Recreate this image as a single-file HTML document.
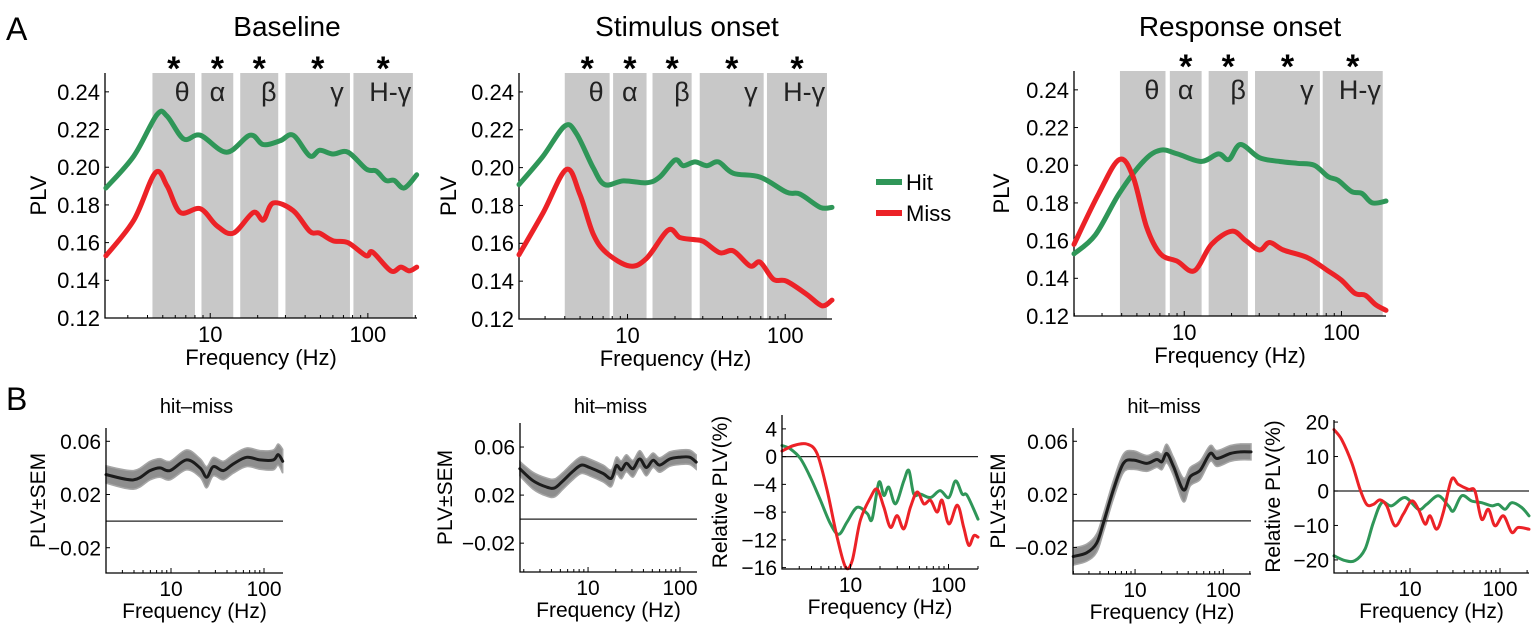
<!DOCTYPE html>
<html><head><meta charset="utf-8"><style>
html,body{margin:0;padding:0;background:#fff}
svg{display:block;font-family:"Liberation Sans",Arial,sans-serif}
</style></head><body>
<svg id="fig" width="1535" height="629" viewBox="0 0 1535 629" xmlns="http://www.w3.org/2000/svg">
<text x="6" y="40" font-size="32">A</text>
<text x="6" y="410" font-size="32">B</text>
<text x="287" y="36" font-size="28" text-anchor="middle">Baseline</text>
<text x="687" y="36" font-size="28" text-anchor="middle">Stimulus onset</text>
<text x="1240" y="36" font-size="28" text-anchor="middle">Response onset</text>
<g>
<line x1="876" y1="182" x2="902" y2="182" stroke="#2f9658" stroke-width="6"/>
<text x="906" y="190" font-size="22">Hit</text>
<line x1="876" y1="213" x2="902" y2="213" stroke="#ec2227" stroke-width="6"/>
<text x="906" y="221" font-size="22">Miss</text>
</g>
</svg>
<script>
// ---------- Data ----------
const bandNames = ["θ","α","β","γ","H-γ"];
const bandsA1 = [[4.3,8.0],[8.8,14],[15.5,27],[30,77],[81,193]];
const bandsA2 = [[4.0,7.7],[8.1,13.2],[14.4,25.5],[28.7,73],[76.6,184]];
const bandsA3 = [[3.9,7.6],[8.1,12.9],[14.3,25.4],[28.2,72.9],[76,183]];
const starsA1 = [true,true,true,true,true];
const starsA2 = [true,true,true,true,true];
const starsA3 = [false,true,true,true,true];

const a1HitFreq = [2.18,3.28,4.6,5.33,6.79,8.65,12.7,17.9,21.7,27.7,33.6,42.8,49.5,60,74.7,97.8,113,130,147,170,204];
const a1HitVal  = [.189,.206,.228,.227,.215,.217,.208,.217,.212,.214,.217,.206,.209,.207,.208,.199,.198,.193,.193,.189,.196];
const a1MissFreq = [2.18,3.28,4.48,5.33,6.46,8.65,11.0,14.0,18.8,21.7,25.1,33.6,42.8,49.5,60,74.7,97.8,107,140,162,183,204];
const a1MissVal  = [.153,.172,.197,.190,.176,.178,.169,.165,.176,.172,.181,.177,.166,.165,.161,.160,.153,.155,.145,.147,.145,.147];

const a2HitFreq = [2.05,2.91,4.0,4.74,6.05,7.17,9.4,13.2,16.0,20.0,22.6,26.8,31.8,37.7,46.9,69.3,102,124,167,198];
const a2HitVal  = [.191,.206,.222,.218,.200,.191,.193,.192,.195,.204,.201,.203,.201,.203,.197,.195,.187,.186,.179,.179];
const a2MissFreq = [2.05,2.91,4.09,4.98,6.05,7.35,10.3,13.2,18.1,21.5,26.1,30.3,38.6,46.9,59.9,69.3,84.2,102,137,171,198];
const a2MissVal  = [.154,.176,.199,.186,.165,.155,.148,.152,.167,.163,.162,.161,.155,.156,.148,.150,.141,.140,.133,.127,.130];

const a3HitFreq = [1.99,2.72,3.86,5.49,7.05,9.05,12.8,16.5,19.2,22.8,30.1,40.6,52.2,67,82,95,116,135,157,192];
const a3HitVal  = [.153,.163,.185,.202,.208,.206,.202,.206,.203,.211,.204,.202,.201,.200,.194,.192,.186,.185,.180,.181];
const a3MissFreq = [1.99,2.86,3.86,4.72,5.77,7.05,9.05,11.6,14.9,20.1,24.6,30.1,34.9,42.7,60.7,82,100,122,142,165,192];
const a3MissVal  = [.158,.185,.203,.194,.167,.153,.149,.144,.158,.165,.160,.155,.159,.155,.151,.144,.139,.132,.131,.126,.123];

const b1Freq = [2.0,3.94,5.95,7.6,9.75,14.7,20.5,24.2,28.5,36.5,46.7,65,90.5,126,142,159];
const b1Mean = [.035,.031,.038,.040,.038,.046,.040,.033,.041,.038,.043,.048,.046,.046,.050,.045];
const b1Sem  = [.0065,.007,.007,.007,.007,.0075,.007,.008,.007,.007,.007,.007,.007,.0075,.008,.009];

const b2Freq = [1.81,2.52,3.53,4.34,5.35,6.87,8.46,10.4,14.6,17.9,20.3,23.0,26.1,30.8,36.4,43.0,50.9,60.2,77.3,99.3,127,150];
const b2Mean = [.042,.032,.0267,.026,.032,.040,.045,.043,.038,.034,.0445,.041,.0465,.042,.050,.043,.049,.045,.050,.0515,.0515,.0475];
const b2Sem  = [.006,.007,.0075,.0075,.007,.007,.007,.007,.007,.007,.007,.0075,.007,.007,.007,.007,.006,.006,.006,.006,.006,.006];

const b3Freq = [2.0,2.64,3.61,4.57,5.78,7.3,8.9,10.4,12.6,16.0,18.7,21.9,25.6,29.9,35.0,40.9,47.9,56,65.5,76.6,86,101,123,143,161,181,200];
const b3Miss = [0.8,1.6,1.8,0.4,-4.9,-11.6,-15.9,-15,-9.2,-5.9,-4.7,-7.3,-10.2,-8.5,-10.4,-7.3,-5.1,-6.8,-6.3,-8.0,-6.3,-9.7,-7.0,-10.2,-12.8,-11.4,-11.6];
const b3HitFreq = [2.0,2.44,3.09,3.9,4.94,6.25,7.6,9.25,11.7,14.8,16.6,19.5,21.9,24.6,28.8,35.0,39.4,44.2,51.8,65.5,82,101,118,138,155,200];
const b3Hit = [1.6,1.1,-0.3,-3.0,-6.3,-9.7,-11.2,-9.4,-7.3,-8.2,-9.0,-3.7,-5.6,-4.4,-6.8,-3.5,-2.0,-5.4,-5.4,-5.9,-4.9,-5.9,-3.5,-5.4,-5.6,-9.0];

const b4Freq = [1.99,2.82,3.67,4.37,5.67,7.37,9.57,13.6,17.6,20.1,22.9,27.3,35.4,42.2,54.8,71.1,84.9,120,156,206];
const b4Mean = [-.0268,-.024,-.0168,-.0018,.0233,.0433,.0458,.0433,.0463,.0445,.0508,.0408,.0233,.0333,.0383,.0508,.047,.0508,.052,.052];
const b4Sem  = [.0065,.0065,.007,.007,.007,.007,.007,.006,.006,.006,.007,.007,.009,.007,.007,.006,.006,.006,.006,.006];

const b5MissFreq = [1.43,1.74,2.25,2.78,3.3,3.91,4.64,5.51,6.8,8.43,10.4,12.4,14.7,16.7,19.8,23.4,29.0,34.4,44.4,52.6,62.5,74.2,88,109,135,159,210];
const b5Miss = [17.8,14.9,8.2,0.5,-3.9,-3.9,-2.6,-4.3,-10.1,-6.7,-2.9,-5.3,-9.6,-7.2,-11.1,-6.3,3.4,1.9,0.5,0,-8.2,-5.3,-10.1,-7.2,-12.0,-10.6,-11.1];
const b5HitFreq = [1.43,1.9,2.45,3.16,3.91,4.84,6.25,8.8,12.4,15.3,20.6,26.7,30.3,37.5,48.4,62.5,81,96,114,135,174,210];
const b5Hit = [-18.8,-20.2,-20.2,-16.9,-9.2,-3.4,-4.3,-1.9,-5.3,-3.9,-1.4,-4.3,-5.8,-1.4,-2.9,-3.4,-4.3,-3.9,-5.3,-3.4,-4.8,-7.2];

const aYTicks = [0.12,0.14,0.16,0.18,0.20,0.22,0.24];
const bYTicks = [-0.02,0.02,0.06];
const b3YTicks = [-16,-12,-8,-4,0,4];
const b5YTicks = [-20,-10,0,10,20];
const xTicks = [10,100];

// ---------- Helpers ----------
const NS = "http://www.w3.org/2000/svg";
const svg = document.getElementById("fig");
const GREEN = "#2f9658", RED = "#ec2227";
function mk(tag, attrs, parent) {
  const e = document.createElementNS(NS, tag);
  for (const k in attrs) e.setAttribute(k, attrs[k]);
  (parent || svg).appendChild(e);
  return e;
}
function xs(p) { const l0 = Math.log10(p.xd[0]), l1 = Math.log10(p.xd[1]);
  return f => p.x0 + (Math.log10(f) - l0) / (l1 - l0) * (p.x1 - p.x0); }
function ys(p) { return v => p.y1 - (v - p.yd[0]) / (p.yd[1] - p.yd[0]) * (p.y1 - p.y0); }
function smoothPath(pts) {
  let d = "M" + pts[0][0].toFixed(1) + "," + pts[0][1].toFixed(1);
  for (let i = 0; i < pts.length - 1; i++) {
    const p0 = pts[i - 1] || pts[i], p1 = pts[i], p2 = pts[i + 1], p3 = pts[i + 2] || p2;
    const c1 = [p1[0] + (p2[0] - p0[0]) / 6, p1[1] + (p2[1] - p0[1]) / 6];
    const c2 = [p2[0] - (p3[0] - p1[0]) / 6, p2[1] - (p3[1] - p1[1]) / 6];
    d += "C" + c1[0].toFixed(1) + "," + c1[1].toFixed(1) + " " + c2[0].toFixed(1) + "," + c2[1].toFixed(1) + " " + p2[0].toFixed(1) + "," + p2[1].toFixed(1);
  }
  return d;
}
function axes(p, g, yTicks, fmt, fs, yLabel, yLabelX) {
  const X = xs(p), Y = ys(p);
  const ax = mk("g", {}, g);
  
  
  mk("path", {d: `M${p.x0},${p.y0}V${p.y1}H${p.x1}`, fill: "none", stroke: "#000", "stroke-width": 1.3}, ax);
  yTicks.forEach(t => {
    const y = Y(t);
    mk("line", {x1: p.x0, x2: p.x0 + 4, y1: y, y2: y, stroke: "#000", "stroke-width": 1}, ax);
    const tx = mk("text", {x: p.x0 - 5, y: y + fs * 0.36, "font-size": fs, "text-anchor": "end"}, ax);
    tx.textContent = fmt(t);
    
    
  });
  for (let dec = 1; dec <= 1000; dec *= 10) for (let m = 1; m < 10; m++) {
    const f = dec * m;
    if (f < p.xd[0] || f > p.xd[1]) continue;
    const x = X(f), major = (m === 1);
    mk("line", {x1: x, x2: x, y1: p.y1, y2: p.y1 - (major ? 5 : 3), stroke: "#000", "stroke-width": 1}, ax);
  }
  xTicks.forEach(t => {
    const tx = mk("text", {x: X(t), y: p.y1 + fs + 2, "font-size": fs, "text-anchor": "middle"}, ax);
    tx.textContent = t;
    
    
  });
  const xl = mk("text", {x: (p.x0 + p.x1) / 2, y: p.y1 + fs * 2 + 3, "font-size": fs, "text-anchor": "middle"}, ax);
  xl.textContent = "Frequency (Hz)";
  
  
  const cy = (p.y0 + p.y1) / 2;
  const yl = mk("text", {x: yLabelX, y: cy, "font-size": fs, "text-anchor": "middle", transform: `rotate(-90 ${yLabelX} ${cy})`}, ax);
  yl.textContent = yLabel;
  
  
}
function line(p, g, fr, vals, color, w, name) {
  const X = xs(p), Y = ys(p);
  const pts = fr.map((f, i) => [X(f), Y(vals[i])]);
  const el = mk("path", {d: smoothPath(pts), fill: "none", stroke: color, "stroke-width": w, "stroke-linejoin": "round", "stroke-linecap": "round"}, g);
  
  
}
function semBand(p, g, fr, mean, sem, name) {
  const X = xs(p), Y = ys(p);
  const up = fr.map((f, i) => [X(f), Y(mean[i] + sem[i])]);
  const lo = fr.map((f, i) => [X(f), Y(mean[i] - sem[i])]).reverse();
  const d = smoothPath(up) + "L" + smoothPath(lo).slice(1) + "Z";
  const el = mk("path", {d: d, fill: "#8e8e8e", stroke: "#a6a6a6", "stroke-width": 1.5}, g);
  
  
  line(p, g, fr, mean, "#1c1c1c", 3, name + '-mean-line');
}
function zero(p, g) {
  const Y = ys(p);
  const el = mk("line", {x1: p.x0, x2: p.x1, y1: Y(0), y2: Y(0), stroke: "#222", "stroke-width": 1.3}, g);
  
  
}
const bandLabelPos = [0.7, 0.5, 0.75, 0.8, 0.62];
function panelA(p, bands, stars, hitF, hitV, missF, missV, yLabelX) {
  const g = mk("g", {});
  
  
  const X = xs(p);
  bands.forEach((b, i) => {
    const r = mk("rect", {x: X(b[0]), y: p.y0, width: X(b[1]) - X(b[0]), height: p.y1 - p.y0, fill: "#c8c8c8"}, g);
    
    
    const lx = X(b[0]) + (X(b[1]) - X(b[0])) * bandLabelPos[i];
    const t = mk("text", {x: lx, y: p.y0 + 28, "font-size": 27, "text-anchor": "middle", fill: "#222"}, g);
    t.textContent = bandNames[i];
    
    
    if (stars[i]) {
      const s = mk("text", {x: (X(b[0]) + X(b[1])) / 2, y: p.y0 + 7, "font-size": 34, "text-anchor": "middle", "font-weight": "bold"}, g);
      s.textContent = "*";
      
      
    }
  });
  axes(p, g, aYTicks, t => t.toFixed(2), 22, "PLV", yLabelX);
  line(p, g, hitF, hitV, GREEN, 5, 'hit-line');
  line(p, g, missF, missV, RED, 5, 'miss-line');
}
function panelBsem(p, fr, mean, sem, yLabelX) {
  const g = mk("g", {});
  
  
  const t = mk("text", {x: (p.x0 + p.x1) / 2 + 2, y: 413, "font-size": 20, "text-anchor": "middle"}, g);
  t.textContent = "hit–miss";
  
  
  semBand(p, g, fr, mean, sem, 'hit-miss');
  zero(p, g);
  axes(p, g, bYTicks, t => (t < 0 ? "−" : "") + Math.abs(t).toFixed(2), 21, "PLV±SEM", yLabelX);
}
function panelBrel(p, yTicks, hitF, hitV, missF, missV, yLabelX) {
  const g = mk("g", {});
  
  
  zero(p, g);
  line(p, g, hitF, hitV, GREEN, 3, 'hit-relative-line');
  line(p, g, missF, missV, RED, 3, 'miss-relative-line');
  axes(p, g, yTicks, t => (t < 0 ? "−" : "") + Math.abs(t), 21, "Relative PLV(%)", yLabelX);
}

panelA({name: "baseline-panel", x0: 105, x1: 417, y0: 73, y1: 318, xd: [2.15, 205], yd: [0.12, 0.25]},
  bandsA1, starsA1, a1HitFreq, a1HitVal, a1MissFreq, a1MissVal, 46);
panelA({name: "stimulus-onset-panel", x0: 519, x1: 832, y0: 73, y1: 319, xd: [2.05, 198], yd: [0.12, 0.25]},
  bandsA2, starsA2, a2HitFreq, a2HitVal, a2MissFreq, a2MissVal, 456);
panelA({name: "response-onset-panel", x0: 1074, x1: 1386, y0: 71, y1: 316, xd: [1.99, 192], yd: [0.12, 0.25]},
  bandsA3, starsA3, a3HitFreq, a3HitVal, a3MissFreq, a3MissVal, 1009);

panelBsem({name: "baseline-hit-miss", x0: 106, x1: 283, y0: 428, y1: 573, xd: [2, 160], yd: [-0.039, 0.07]}, b1Freq, b1Mean, b1Sem, 45);
panelBsem({name: "stimulus-hit-miss", x0: 520, x1: 697, y0: 423, y1: 572, xd: [1.82, 153], yd: [-0.044, 0.08]}, b2Freq, b2Mean, b2Sem, 452);
panelBrel({name: "stimulus-relative-plv", x0: 782, x1: 978, y0: 415, y1: 569, xd: [2, 200], yd: [-16.2, 6]}, b3YTicks, b3HitFreq, b3Hit, b3Freq, b3Miss, 727);
panelBsem({name: "response-hit-miss", x0: 1073, x1: 1251, y0: 428, y1: 574, xd: [1.98, 206], yd: [-0.04, 0.07]}, b4Freq, b4Mean, b4Sem, 1005);
panelBrel({name: "response-relative-plv", x0: 1334, x1: 1529, y0: 420, y1: 573, xd: [1.43, 210], yd: [-23.8, 20.6]}, b5YTicks, b5HitFreq, b5Hit, b5MissFreq, b5Miss, 1280);
</script>
</body></html>
